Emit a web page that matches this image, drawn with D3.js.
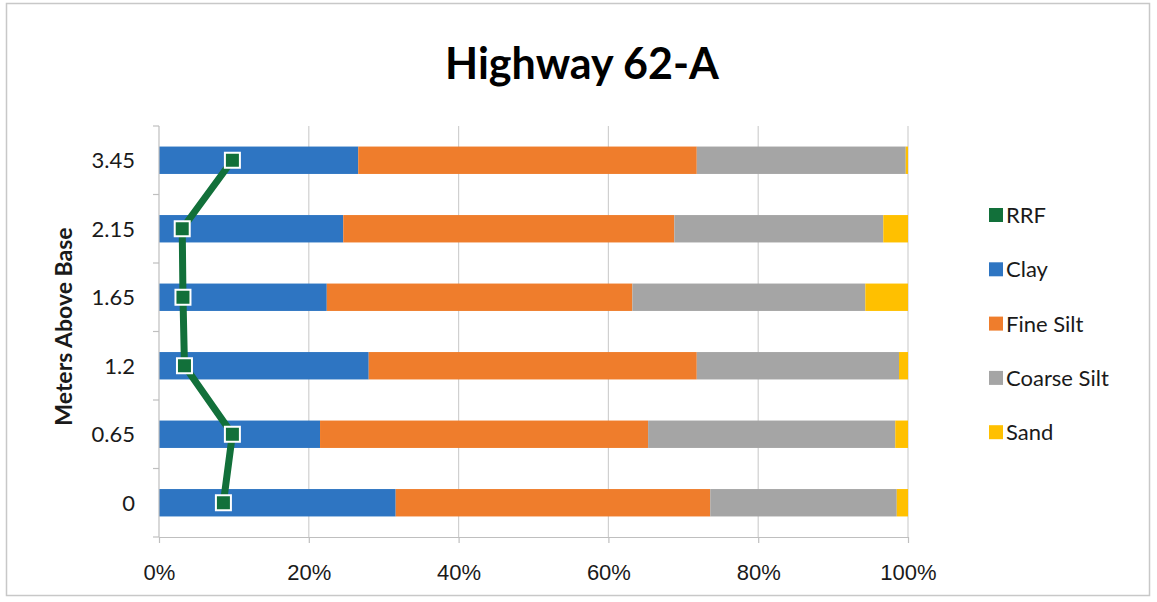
<!DOCTYPE html>
<html>
<head>
<meta charset="utf-8">
<script src="https://cdn.jsdelivr.net/npm/d3@7"></script>
<style>
  html, body { margin: 0; padding: 0; background: #fff; }
  svg { display: block; font-family: Lato, "Open Sans", sans-serif; }
</style>
</head>
<body>
<svg id="chart" width="1157" height="602"></svg>
<script>
// Sample depths (metres above base), top to bottom
const depths = ["3.45", "2.15", "1.65", "1.2", "0.65", "0"];
// Grain-size fractions (percent of sample)
const clay       = [26.6, 24.6, 22.4, 28.0, 21.5, 31.6];
const fineSilt   = [45.2, 44.2, 40.8, 43.8, 43.8, 42.0];
const coarseSilt = [27.9, 27.9, 31.1, 27.0, 33.0, 24.9];
const sand       = [0.3, 3.3, 5.7, 1.2, 1.7, 1.5];
// RRF values (percent)
const rrf        = [9.8, 3.1, 3.2, 3.4, 9.8, 8.6];
const xTicks     = [0, 20, 40, 60, 80, 100];

const seriesNames  = ["Clay", "Fine Silt", "Coarse Silt", "Sand"];
const seriesColors = ["#2e75c2", "#ef7d2c", "#a5a5a5", "#ffc000"];
const rrfColor = "#12703a";

const svg = d3.select("#chart");

// Frame
svg.append("rect")
  .attr("x", 6.5).attr("y", 3.5)
  .attr("width", 1143).attr("height", 592)
  .attr("fill", "#fff").attr("stroke", "#c8c8c8").attr("stroke-width", 1.5);

const plot = { left: 159, right: 908, top: 126, bottom: 537 };

const x = d3.scaleLinear().domain([0, 100]).range([plot.left, plot.right]);
const y = d3.scaleBand().domain(depths).range([plot.top, plot.bottom]).paddingInner(0.6).paddingOuter(0.3);

// Vertical gridlines
svg.append("g").selectAll("line")
  .data(xTicks.filter(t => t > 0))
  .join("line")
  .attr("x1", d => x(d)).attr("x2", d => x(d))
  .attr("y1", plot.top).attr("y2", plot.bottom)
  .attr("stroke", "#d0d0d0").attr("stroke-width", 1.2);

// Stacked bars
const rows = depths.map((d, i) => ({
  depth: d, Clay: clay[i], "Fine Silt": fineSilt[i], "Coarse Silt": coarseSilt[i], Sand: sand[i]
}));
const stack = d3.stack().keys(seriesNames)(rows);

svg.append("g").selectAll("g")
  .data(stack)
  .join("g")
  .attr("fill", (d, i) => seriesColors[i])
  .selectAll("rect")
  .data(d => d)
  .join("rect")
  .attr("x", d => x(d[0]))
  .attr("width", d => x(d[1]) - x(d[0]))
  .attr("y", d => y(d.data.depth))
  .attr("height", y.bandwidth());

// X axis
const xAxis = d3.axisBottom(x)
  .tickValues(xTicks)
  .tickFormat(d => d + "%")
  .tickSize(6)
  .tickSizeOuter(0)
  .tickPadding(21);
const gx = svg.append("g")
  .attr("transform", `translate(0,${plot.bottom})`)
  .call(xAxis);
gx.select(".domain").attr("stroke", "#bfbfbf").attr("stroke-width", 1.2);
gx.selectAll(".tick line").attr("stroke", "#bfbfbf").attr("stroke-width", 1.2);
gx.selectAll("text").attr("font-size", 22).attr("fill", "#1a1a1a");

// Y axis: labels at band centres, ticks at band boundaries
const gy = svg.append("g");
gy.append("line")
  .attr("x1", plot.left).attr("x2", plot.left)
  .attr("y1", plot.top).attr("y2", plot.bottom)
  .attr("stroke", "#bfbfbf").attr("stroke-width", 1.2);
const bounds = d3.range(depths.length + 1).map(i => plot.top + i * (plot.bottom - plot.top) / depths.length);
gy.selectAll(".yt")
  .data(bounds)
  .join("line")
  .attr("x1", plot.left - 6).attr("x2", plot.left)
  .attr("y1", d => d).attr("y2", d => d)
  .attr("stroke", "#bfbfbf").attr("stroke-width", 1.2);
gy.selectAll("text")
  .data(depths)
  .join("text")
  .attr("x", plot.left - 24)
  .attr("y", d => y(d) + y.bandwidth() / 2)
  .attr("dy", "0.36em")
  .attr("text-anchor", "end")
  .attr("font-size", 22)
  .attr("fill", "#1a1a1a")
  .text(d => d);

// RRF line with square markers
const line = d3.line()
  .x(d => x(d))
  .y((d, i) => y(depths[i]) + y.bandwidth() / 2);
svg.append("path")
  .datum(rrf)
  .attr("d", line)
  .attr("fill", "none")
  .attr("stroke", rrfColor)
  .attr("stroke-width", 7)
  .attr("stroke-linejoin", "round");
const ms = 15;
svg.append("g").selectAll("rect")
  .data(rrf)
  .join("rect")
  .attr("x", d => x(d) - ms / 2)
  .attr("y", (d, i) => y(depths[i]) + y.bandwidth() / 2 - ms / 2)
  .attr("width", ms).attr("height", ms)
  .attr("fill", rrfColor)
  .attr("stroke", "#fff").attr("stroke-width", 2);

// Title
svg.append("text")
  .attr("x", 582).attr("y", 79)
  .attr("text-anchor", "middle")
  .attr("font-size", 43).attr("font-weight", "bold")
  .attr("fill", "#000")
  .text("Highway 62-A");

// Y axis title
svg.append("text")
  .attr("transform", `translate(72,${(plot.top + plot.bottom) / 2 - 5}) rotate(-90)`)
  .attr("text-anchor", "middle")
  .attr("font-size", 23).attr("font-weight", "bold")
  .attr("fill", "#1a1a1a")
  .text("Meters Above Base");

// Legend
const legendNames = ["RRF"].concat(seriesNames);
const legendColors = [rrfColor].concat(seriesColors);
const lg = svg.append("g").selectAll("g")
  .data(legendNames)
  .join("g")
  .attr("transform", (d, i) => `translate(989,${215 + i * 54.3})`);
lg.append("rect")
  .attr("x", 0).attr("y", -7)
  .attr("width", 14).attr("height", 14)
  .attr("fill", (d, i) => legendColors[i]);
lg.append("text")
  .attr("x", 17).attr("y", 0).attr("dy", "0.36em")
  .attr("font-size", 22).attr("fill", "#1a1a1a")
  .text(d => d);
</script>
</body>
</html>
